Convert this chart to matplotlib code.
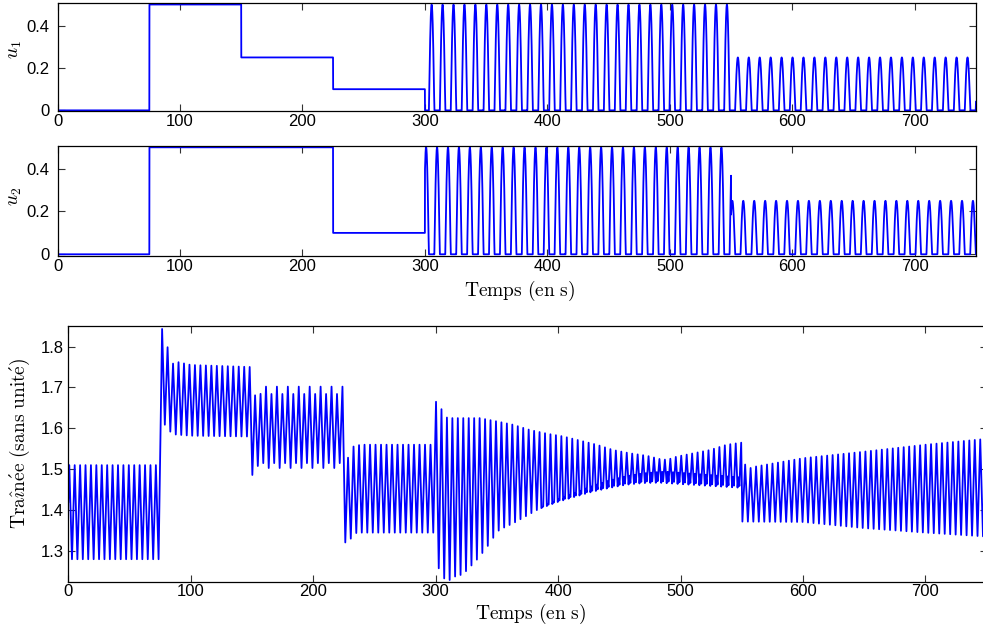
import numpy as np
import matplotlib
matplotlib.use("Agg")
import matplotlib.pyplot as plt
from matplotlib.ticker import FuncFormatter, FixedLocator

plt.rcParams['font.family'] = ['Liberation Sans', 'DejaVu Sans']
plt.rcParams['mathtext.fontset'] = 'cm'

# ---------------- control inputs u1, u2 ----------------
step_t = [0, 75, 150, 225, 300]
u1_steps = [0.0, 0.5, 0.25, 0.1]
u2_steps = [0.0, 0.5, 0.5, 0.1]
osc_t = [300, 550, 750]
u1_amp = [0.5, 0.25]
u2_amp = [0.5, 0.25]
u_period = 8.93
u1_first_peak = 305.5
u2_first_peak = 301.0

# ---------------- drag (trainee) ----------------
drag_t0 = 0.0
drag_v0 = 1.42
drag_seg_end = [75, 150, 225, 300, 550, 752]
drag_first_ext = [0.8, 76.6, 150.3, 226.2, 300.3, 550.5]
drag_first_is_peak = [True, True, False, False, True, False]
drag_period = [4.42, 4.47, 4.46, 4.49, 4.45, 4.465]
drag_alt_up = [0, 0, 0.009, 0, 0, 0]
drag_alt_lo = [0, 0, 0.006, 0, 0, 0]

up_t = [0, 73, 76.6, 80.9, 85.2, 89.6, 100, 149,
        152.7, 157.1, 161.5, 225,
        228.7, 233.1, 240, 299,
        300.3, 305.2, 309.5, 336, 350, 363, 377, 391, 404.5, 418, 431.5, 445,
        458.7, 472.4, 483, 489, 497, 510.4, 524, 537.7, 549.6,
        553.4, 562, 600, 650, 700, 752]
up_v = [1.51, 1.51, 1.843, 1.80, 1.758, 1.762, 1.755, 1.75,
        1.668, 1.694, 1.693, 1.693,
        1.516, 1.557, 1.56, 1.56,
        1.665, 1.645, 1.625, 1.625, 1.617, 1.609, 1.596, 1.587, 1.58, 1.57, 1.56, 1.547,
        1.539, 1.533, 1.525, 1.523, 1.531, 1.539, 1.547, 1.56, 1.565,
        1.50, 1.507, 1.527, 1.543, 1.56, 1.575]

lo_t = [0, 75, 79, 83.3, 87.5, 100, 148,
        150.3, 154.7, 159, 224,
        226.2, 230.6, 235.5, 240, 298.5,
        302.7, 307.4, 311.7, 316, 321, 325.3, 329.6, 334.3, 338.6, 343.2, 347.6, 352,
        363.4, 382.5, 401.5, 415, 428.8, 442.4, 456, 470, 483, 510, 548,
        550.5, 600, 650, 700, 752]
lo_v = [1.28, 1.28, 1.623, 1.592, 1.585, 1.582, 1.58,
        1.480, 1.514, 1.509, 1.509,
        1.321, 1.330, 1.345, 1.345, 1.345,
        1.254, 1.231, 1.229, 1.238, 1.242, 1.252, 1.266, 1.281, 1.297, 1.315, 1.335, 1.352,
        1.368, 1.40, 1.421, 1.433, 1.445, 1.454, 1.462, 1.466, 1.467, 1.462, 1.455,
        1.372, 1.371, 1.356, 1.345, 1.335]

# small secondary bump inside troughs (300-550 s)
bump_t = [300, 380, 440, 490, 550]
bump_v = [0.0, 0.0, 0.018, 0.028, 0.025]

# ---------------- build u signals ----------------
t = np.arange(0, 750.001, 0.02)


def build_u(steps, amps, peak0):
    u = np.zeros_like(t)
    for i in range(len(steps)):
        m = (t >= step_t[i]) & (t < step_t[i + 1])
        u[m] = steps[i]
    for i in range(len(amps)):
        m = (t >= osc_t[i]) & (t <= osc_t[i + 1])
        u[m] = amps[i] * np.maximum(0, np.cos(2 * np.pi * (t[m] - peak0) / u_period))
    return u


u1 = build_u(u1_steps, u1_amp, u1_first_peak)
u2 = build_u(u2_steps, u2_amp, u2_first_peak)

# ---------------- build drag polyline ----------------
ext_t = [drag_t0]
ext_v = [drag_v0]
for i in range(len(drag_seg_end)):
    P = drag_period[i]
    tt = drag_first_ext[i]
    is_peak = drag_first_is_peak[i]
    jp = 0
    jt = 0
    while tt < drag_seg_end[i]:
        if is_peak:
            sgn = 1 if jp % 2 == 0 else -1
            v = np.interp(tt, up_t, up_v) + sgn * drag_alt_up[i]
            ext_t.append(tt)
            ext_v.append(v)
            jp += 1
        else:
            sgn = 1 if jt % 2 == 0 else -1
            v = np.interp(tt, lo_t, lo_v) + sgn * drag_alt_lo[i]
            b = np.interp(tt, bump_t, bump_v) if 300 <= tt <= 550 else 0.0
            if b > 0.002:
                ext_t += [tt - 0.17 * P, tt, tt + 0.17 * P]
                ext_v += [v, v + b, v + 0.004]
            else:
                ext_t.append(tt)
                ext_v.append(v)
            jt += 1
        is_peak = not is_peak
        tt += P / 2.0

ext_t = np.array(ext_t)
ext_v = np.array(ext_v)

# ---------------- figure ----------------
W, H = 983, 634
fig = plt.figure(figsize=(W / 100, H / 100), dpi=100)


def px_axes(l, r, top, bot):
    return fig.add_axes([l / W, 1 - bot / H, (r - l) / W, (bot - top) / H])


ax1 = px_axes(57.5, 976, 2.7, 111)
ax2 = px_axes(57.5, 976, 145.7, 256)
ax3 = px_axes(68.3, 986.7, 325.7, 581.7)

blue = (0, 0, 1)
ax1.plot(t, u1, color=blue, lw=1.3)
ax2.plot(t, u2, color=blue, lw=1.3)
ax3.plot(ext_t, ext_v, color=blue, lw=1.3)

fmt = FuncFormatter(lambda v, p: ('%g' % v))
for ax in (ax1, ax2):
    ax.set_xlim(0, 750)
    ax.set_xticks([0, 100, 200, 300, 400, 500, 600, 700])
    ax.set_yticks([0, 0.2, 0.4])
    ax.yaxis.set_major_formatter(fmt)
ax1.set_ylim(-0.003, 0.5085)
ax2.set_ylim(-0.008, 0.5075)
ax3.set_xlim(0, 750)
ax3.set_ylim(1.225, 1.851)
ax3.set_xticks([0, 100, 200, 300, 400, 500, 600, 700])
ax3.set_yticks([1.3, 1.4, 1.5, 1.6, 1.7, 1.8])
ax3.yaxis.set_major_formatter(fmt)

for ax, ypad in ((ax1, 6), (ax2, 6), (ax3, 3)):
    ax.tick_params(direction='in', top=True, right=True, length=5, width=0.8,
                   labelsize=12, color='#333333')
    ax.tick_params(axis='x', pad=2)
    ax.tick_params(axis='y', pad=ypad)
    for s in ax.spines.values():
        s.set_linewidth(0.9)

fig.text(15 / W, 1 - 50 / H, r'$u_1$', rotation=90, ha='center', va='center', fontsize=14)
fig.text(15 / W, 1 - 196 / H, r'$u_2$', rotation=90, ha='center', va='center', fontsize=14)
fig.text(520 / W, 1 - 291 / H, r'$\mathrm{Temps\ (en\ s)}$', ha='center', va='center', fontsize=14)
fig.text(531 / W, 1 - 614 / H, r'$\mathrm{Temps\ (en\ s)}$', ha='center', va='center', fontsize=14)
fig.text(20 / W, 1 - 443 / H, r'$\mathrm{Tra\hat{\imath}n\acute{e}e\ (sans\ unit\acute{e})}$',
         rotation=90, ha='center', va='center', fontsize=14)

fig.savefig('out.png', dpi=100)
